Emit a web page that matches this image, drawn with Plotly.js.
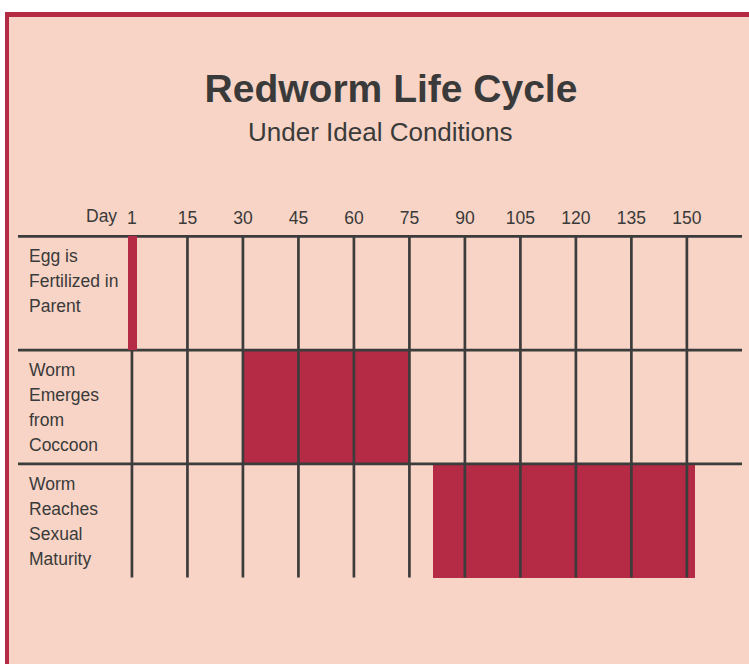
<!DOCTYPE html>
<html>
<head>
<meta charset="utf-8">
<script src="https://cdn.plot.ly/plotly-3.0.1.min.js"></script>
<style>html,body{margin:0;padding:0;background:#fff;}#chart{width:749px;height:664px;}</style>
</head>
<body>
<div id="chart"></div>
<script>
// ---- data ----
const stages = ['Egg is<br>Fertilized in<br>Parent', 'Worm<br>Emerges<br>from<br>Coccoon', 'Worm<br>Reaches<br>Sexual<br>Maturity'];
const startDay = [-1.05, 30, 81.4];
const endDay = [1.4, 75, 152.2];
const tickDays = [0, 15, 30, 45, 60, 75, 90, 105, 120, 135, 150];
const tickLabels = ['1', '15', '30', '45', '60', '75', '90', '105', '120', '135', '150'];

// ---- style ----
const W = 749, H = 664;
const M = {l: 18, r: 7, t: 234, b: 83};
const xRange = [-30.8, 164.9];
const yRange = [-0.03, 3.02];
const CRIMSON = '#B52A45', PEACH = '#F7D4C5', LINE = '#3C3C3C', TEXT = '#3A3A3A';
const FONT = 'Liberation Sans, Arial, sans-serif';
const LABEL_SIZE = 17.5, LINE_STEP = 25;
const pw = W - M.l - M.r, ph = H - M.t - M.b;
const px = x => (x - M.l) / pw;
const py = y => (H - M.b - y) / ph;

const nRows = stages.length;
const rowCenter = stages.map((s, i) => nRows - i - 0.5);
const rowTop = stages.map((s, i) => nRows - i);

const mainIdx = [1, 2];
const barMain = {
  type: 'bar', orientation: 'h',
  y: mainIdx.map(i => rowCenter[i]),
  base: mainIdx.map(i => startDay[i]),
  x: mainIdx.map(i => endDay[i] - startDay[i]),
  width: 1, marker: {color: CRIMSON, line: {width: 0}},
  hoverinfo: 'skip', showlegend: false, xaxis: 'x', yaxis: 'y'
};
const gx = [], gy = [];
tickDays.forEach(d => { gx.push(d, d, null); gy.push(0, nRows, null); });
rowTop.forEach(t => { gx.push(xRange[0], xRange[1], null); gy.push(t, t, null); });
const grid = {
  type: 'scatter', mode: 'lines', x: gx, y: gy,
  line: {color: LINE, width: 2.7}, hoverinfo: 'skip', showlegend: false,
  xaxis: 'x', yaxis: 'y', cliponaxis: false
};
const barEgg = {
  type: 'bar', orientation: 'h',
  y: [rowCenter[0]], base: [startDay[0]], x: [endDay[0] - startDay[0]],
  width: 1, marker: {color: CRIMSON, line: {width: 0}},
  hoverinfo: 'skip', showlegend: false, xaxis: 'x2', yaxis: 'y2'
};

const annotations = [];
stages.forEach((s, i) => {
  s.split('<br>').forEach((ln, k) => {
    annotations.push({
      text: ln, xref: 'paper', x: px(27), xanchor: 'left', align: 'left',
      yref: 'y', y: rowTop[i], yanchor: 'middle', yshift: -20 - k * LINE_STEP, showarrow: false,
      font: {family: FONT, size: LABEL_SIZE, color: TEXT}
    });
  });
});
annotations.push({
  text: 'Day', xref: 'x', x: tickDays[0], xanchor: 'right', xshift: -13,
  yref: 'paper', y: py(216), yanchor: 'middle', showarrow: false,
  font: {family: FONT, size: LABEL_SIZE, color: TEXT}
});
annotations.push({
  text: 'Under Ideal Conditions', xref: 'paper', x: px(380.5), xanchor: 'center',
  yref: 'paper', y: py(132), yanchor: 'middle', showarrow: false,
  font: {family: FONT, size: 26, color: TEXT}
});

const shapes = [
  {type: 'rect', xref: 'paper', yref: 'paper', x0: px(5), x1: px(W + 5), y0: py(H + 5), y1: py(12),
   fillcolor: CRIMSON, line: {width: 0}, layer: 'below'},
  {type: 'rect', xref: 'paper', yref: 'paper', x0: px(9), x1: px(W + 5), y0: py(H + 5), y1: py(17),
   fillcolor: PEACH, line: {width: 0}, layer: 'below'}
];

const layout = {
  width: W, height: H, margin: M,
  paper_bgcolor: '#FFFFFF', plot_bgcolor: 'rgba(0,0,0,0)',
  font: {family: FONT, color: TEXT},
  title: {text: '<b>Redworm Life Cycle</b>', font: {family: FONT, size: 39, color: TEXT},
          x: 391 / W, xanchor: 'center', xref: 'container', y: 1 - 88 / H, yanchor: 'middle', yref: 'container'},
  xaxis: {range: xRange, side: 'top', tickvals: tickDays, ticktext: tickLabels, showgrid: false,
          zeroline: false, showline: false, ticks: '', tickfont: {family: FONT, size: LABEL_SIZE, color: TEXT},
          ticklabelstandoff: 6, fixedrange: true},
  yaxis: {range: yRange, showgrid: false, zeroline: false, showline: false, showticklabels: false,
          ticks: '', fixedrange: true},
  xaxis2: {range: xRange, overlaying: 'x', anchor: 'y2', visible: false, fixedrange: true},
  yaxis2: {range: yRange, overlaying: 'y', anchor: 'x2', visible: false, fixedrange: true},
  barmode: 'overlay', bargap: 0,
  shapes: shapes, annotations: annotations, showlegend: false
};

Plotly.newPlot('chart', [barMain, grid, barEgg], layout, {displayModeBar: false, staticPlot: true});
</script>
</body>
</html>
